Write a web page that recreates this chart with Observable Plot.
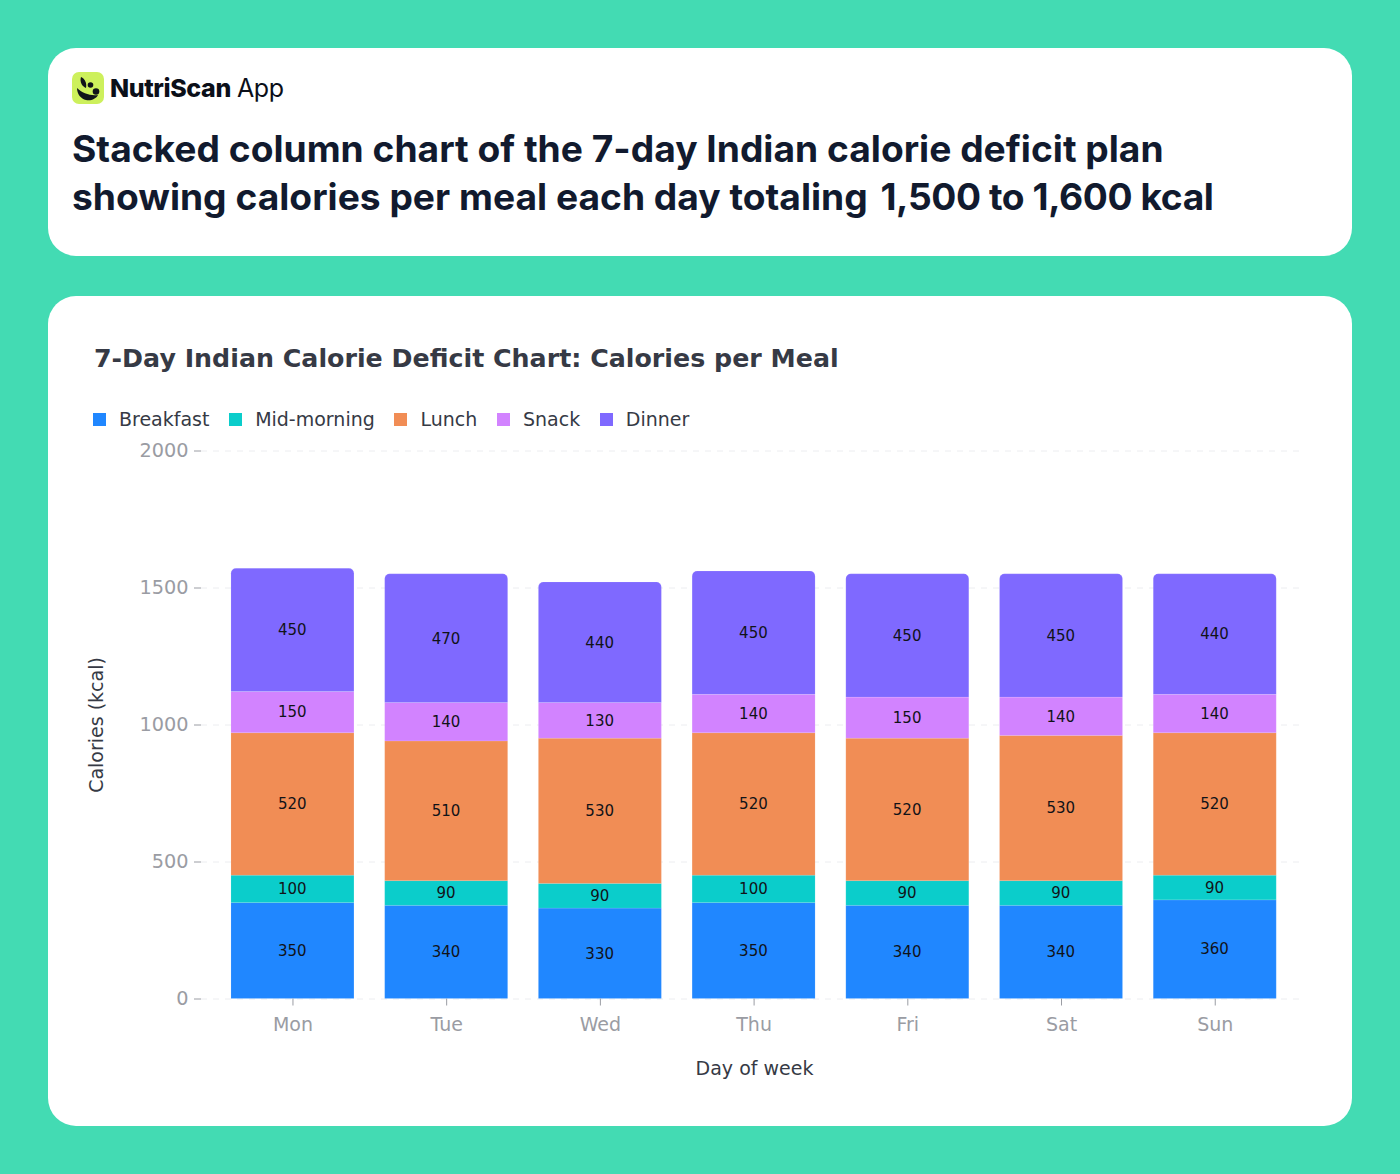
<!DOCTYPE html>
<html><head><meta charset="utf-8">
<script src="https://cdn.jsdelivr.net/npm/d3@7"></script>
<script src="https://cdn.jsdelivr.net/npm/@observablehq/plot@0.6"></script>
<style>
html,body{margin:0;padding:0}
body{width:1400px;height:1174px;background:#43dbb3;position:relative;overflow:hidden}
.card{position:absolute;left:48px;width:1304px;background:#fff;border-radius:28px}
#head{top:48px;height:208px}
#main{top:296px;height:830px}
#brand{position:absolute;left:24px;top:24px;height:32px;display:flex;align-items:center;font-family:Inter,sans-serif;font-size:25px;color:#0b0f19;letter-spacing:-.4px}
#brand svg{margin-right:6px}
#brand b{font-weight:800;margin-right:6px}
#title{position:absolute;left:24px;top:77px;margin:0;font:700 37.2px/48px Inter,sans-serif;color:#111a2e;white-space:nowrap}
#title span{letter-spacing:-.42px;margin-left:4px}
#ct{position:absolute;left:46px;top:47.5px;margin:0;font:700 25.3px/30px "DejaVu Sans",sans-serif;color:#363a45;white-space:nowrap}
#legend{position:absolute;left:45px;top:111px;display:flex;font:19px/24px "DejaVu Sans",sans-serif;color:#363a45}
#legend span{display:flex;align-items:center;margin-right:19.7px}
#legend i{display:block;width:13px;height:13px;margin-right:13px}
#chart{position:absolute;left:0;top:130px}
#chart svg{display:block;overflow:visible}
</style></head><body>
<div class="card" id="head">
<div id="brand"><svg width="32" height="32" viewBox="0 0 32 32"><rect width="32" height="32" rx="7" fill="#cdf05c"/><path d="M5 16C10 21 18 24 26 23C24 27 19 29 14 28C9 27 5 22 5 16Z" fill="#10131a"/><circle cx="24" cy="19.5" r="3.3" fill="#10131a"/><circle cx="18.5" cy="13" r="2.8" fill="#10131a"/><path d="M9 5C13 7 15 11 14 16C10 14.5 7.5 10 9 5Z" fill="#10131a"/></svg><b>NutriScan</b>App</div>
<h1 id="title">Stacked column chart of the 7-day Indian calorie deficit plan<br>showing calories per meal each day totaling <span>1,500 to 1,600 kcal</span></h1>
</div>
<div class="card" id="main">
<h2 id="ct">7-Day Indian Calorie Deficit Chart: Calories per Meal</h2>
<div id="legend"></div>
<div id="chart"></div>
</div>
<script>
const days = ["Mon","Tue","Wed","Thu","Fri","Sat","Sun"];
const meals = ["Breakfast","Mid-morning","Lunch","Snack","Dinner"];
const colors = ["#2087ff","#0bcdcb","#f18d55","#d283ff","#7f69ff"];
const breakfast = [350,340,330,350,340,340,360];
const midMorning = [100,90,90,100,90,90,90];
const lunch = [520,510,530,520,520,530,520];
const snack = [150,140,130,140,150,140,140];
const dinner = [450,470,440,450,450,450,440];
const yTicks = [0,500,1000,1500,2000];
const series = [breakfast,midMorning,lunch,snack,dinner];
const rows = meals.flatMap((m,i)=>days.map((d,j)=>({day:d,meal:m,value:series[i][j]})));
const lg = document.getElementById("legend");
meals.forEach((m,i)=>{const s=document.createElement("span");const k=document.createElement("i");k.style.background=colors[i];s.append(k,m);lg.append(s);});
const stack = {x:"day",y:"value",z:"meal",order:meals};
const barStyle = {fill:"meal",stroke:"#fff",strokeOpacity:0.1,strokeWidth:1};
const fig = Plot.plot({
  width:1304,height:700,
  marginLeft:153,marginRight:52,marginTop:24.5,marginBottom:127.5,
  style:{fontFamily:'"DejaVu Sans",sans-serif',background:"transparent",overflow:"visible"},
  x:{domain:days,insetLeft:14.6,insetRight:8.4,paddingInner:0.2,paddingOuter:0.1,round:false,label:null},
  y:{domain:[0,2000],label:null},
  color:{domain:meals,range:colors},
  marks:[
    Plot.ruleY(yTicks,{stroke:"#e4e6ea",strokeOpacity:.7,strokeDasharray:"6 6"}),
    Plot.barY(rows,Plot.filter(d=>d.meal!=="Dinner",Plot.stackY({...stack,...barStyle}))),
    Plot.barY(rows,Plot.filter(d=>d.meal==="Dinner",Plot.stackY({...stack,...barStyle,ry1:5}))),
    Plot.text(rows,Plot.stackY({...stack,text:"value",fill:"#111318",fontSize:15,dx:-0.7})),
    Plot.axisY({ticks:yTicks,tickSize:7,tickPadding:6,fontSize:19.3,color:"#9a9ca3",stroke:"#9a9ca3",label:null,tickFormat:d=>String(d)}),
    Plot.axisX({tickSize:7,tickPadding:11,fontSize:19,color:"#9a9ca3",stroke:"#9a9ca3",label:null}),
    Plot.text(["Calories (kcal)"],{frameAnchor:"left",textAnchor:"middle",rotate:-90,dx:-105,fontSize:19,fill:"#363a45"}),
    Plot.text(["Day of week"],{frameAnchor:"bottom",lineAnchor:"middle",dx:3.5,dy:70,fontSize:19,fill:"#363a45"})
  ]
});
document.getElementById("chart").append(fig);
</script>
</body></html>
